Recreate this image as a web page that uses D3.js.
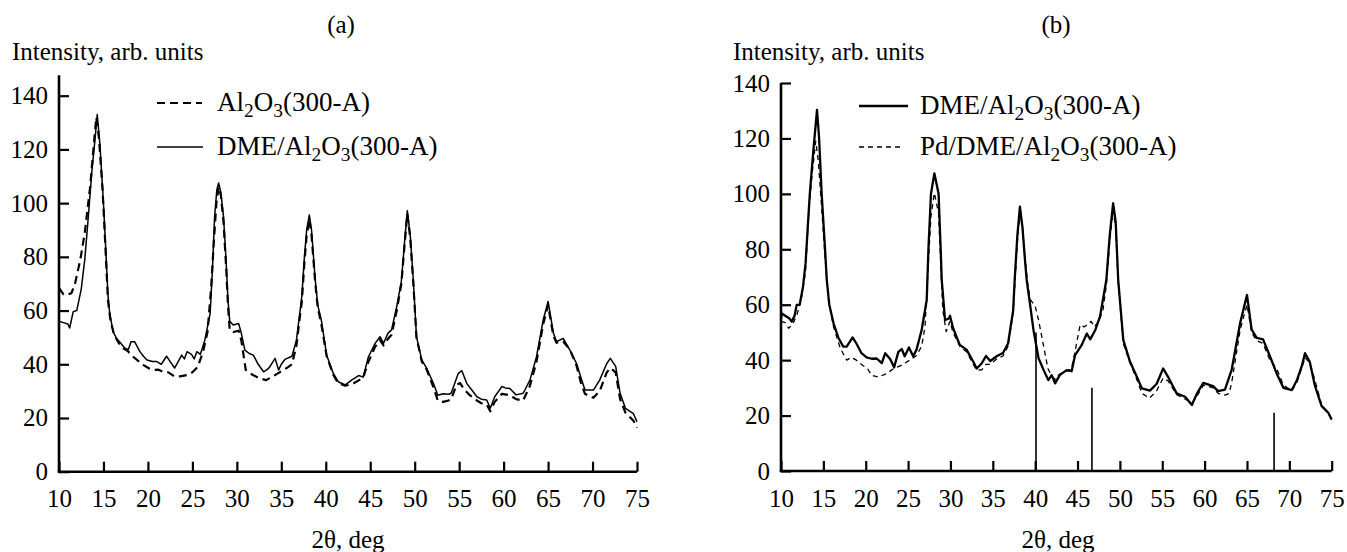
<!DOCTYPE html>
<html><head><meta charset="utf-8">
<script src="https://cdn.jsdelivr.net/npm/d3@7"></script>
<style>
body{margin:0;background:#fff}
</style>
</head><body>
<svg id="chart" width="1347" height="552"></svg>
<script>
// ---- data ----
const xTickValues = [10,15,20,25,30,35,40,45,50,55,60,65,70,75];
const yTickValues = [0,20,40,60,80,100,120,140];

// Panel (a): Al2O3(300-A) (dashed)
const aAl2O3 = [[10,68.4],[10.5,66],[11,66],[11.4,66.5],[11.8,70],[12.4,79],[12.9,89],[13.5,106],[14.0,125],[14.2,132],[14.5,124],[14.9,105],[15.2,85],[15.5,64],[15.8,56],[16.2,51],[16.7,48],[17.2,46],[17.7,45],[18.35,42.8],[19,41],[19.5,39.7],[20.1,38.5],[20.6,37.9],[21.2,38],[21.7,37.2],[22.3,37],[23,35.4],[23.6,35.5],[24.4,36],[25,37],[25.6,39],[26.2,44.7],[26.7,52],[27.1,68],[27.4,85],[27.7,100],[27.95,106],[28.2,103],[28.5,93],[28.8,76],[29.0,62],[29.2,52.8],[29.6,52],[30.2,52.5],[30.5,49],[31,37.9],[31.8,36],[32.6,34.7],[33.3,34.1],[34,35.4],[34.8,37],[35.6,38.6],[36.2,40],[36.7,47],[37.1,58],[37.3,63],[37.6,78],[37.85,88],[38.15,94],[38.4,88],[38.8,71],[39.1,61],[39.5,55],[40.1,43],[40.85,36],[41.4,33],[42.2,32],[42.9,32.5],[43.7,34],[44.2,35],[44.8,41],[45.55,46.5],[46.1,49],[46.5,47],[47.0,49.5],[47.4,51],[47.98,60],[48.5,70],[48.85,84],[49.17,96],[49.5,87],[49.85,70],[50.2,50],[50.8,41],[51.35,38],[52.1,31.5],[52.6,26.5],[53.2,26],[53.8,26.5],[54.1,27],[54.7,32.3],[55.1,33],[55.6,30.5],[56.2,28.5],[57,26.5],[57.5,25.5],[58.1,25],[58.5,22.5],[59,26],[59.8,29],[60.7,28.5],[61.4,27],[62.2,26.5],[62.96,32],[63.7,41],[64.45,55],[65,62],[65.6,50.5],[65.95,48],[66.7,48.5],[67.45,45.5],[68.2,39.5],[68.7,33],[69.15,29],[70.1,27.5],[70.8,30],[71.6,37],[72,38.6],[72.6,37],[73.1,27],[73.7,22],[74.6,19],[75,16.4]];

// Panel (a): DME/Al2O3(300-A) (solid)
const aDME = [[10,56],[10.5,55.5],[11,55],[11.2,53.5],[11.6,59.6],[12,60],[12.5,68],[12.9,79],[13.3,95],[13.7,112],[14.0,122],[14.3,133],[14.6,122],[15.0,100],[15.3,80],[15.5,66],[15.7,59],[16.1,52],[16.5,49.5],[16.9,48],[17.4,46],[17.8,45.5],[18.1,48.4],[18.5,48.4],[19.1,44.7],[19.5,43],[19.9,41.6],[20.5,41],[21,41],[21.5,40],[22.1,43],[22.5,41],[23,38.6],[23.4,41],[23.8,43.4],[24.1,42],[24.4,44.7],[24.9,43.7],[25.2,42],[25.5,44.7],[25.9,43.7],[26.4,49],[27,59],[27.25,75],[27.5,95],[27.75,105],[27.95,107.5],[28.2,104],[28.5,95],[28.8,78],[29.0,64],[29.2,56],[29.6,54.6],[30.2,55.2],[30.5,51.6],[30.9,45.3],[31.4,44],[31.85,43.4],[32.4,40],[33,37.2],[33.4,38],[33.7,39],[34.3,42.2],[34.7,37.9],[35.0,40],[35.4,41.8],[36.2,43],[36.7,49],[37.0,57],[37.3,65],[37.6,80],[37.85,90],[38.15,95.6],[38.4,90],[38.8,72],[39.1,62],[39.5,56.5],[40.1,43.4],[40.85,36.6],[41.4,33.5],[42.2,32.3],[42.9,34.1],[43.7,35.8],[44.2,35.2],[44.8,42.8],[45.55,47.8],[46.1,50.3],[46.5,47.8],[47.0,51.6],[47.4,52.8],[47.98,61.5],[48.5,71],[48.85,85],[49.17,97.2],[49.5,88],[49.85,71],[50.2,50.3],[50.8,41.6],[51.35,38.5],[52.1,32.9],[52.6,28.5],[53.2,29],[53.8,28.8],[54.1,29.2],[54.9,36.6],[55.3,37.6],[55.85,32.9],[56.4,30.5],[57,27.9],[57.5,27],[58.1,26.7],[58.5,23.6],[59.0,27.9],[59.8,31.7],[60.2,31.2],[60.7,31],[61.4,28.6],[62.2,29.2],[62.96,34.1],[63.7,42.8],[64.45,56.5],[65.0,63.4],[65.6,51.6],[65.95,48.4],[66.3,49],[66.7,49.6],[67.45,45.3],[68.2,40.3],[68.7,35],[69.15,30.4],[70.1,30.4],[70.8,34.1],[71.6,40.3],[72.0,42.2],[72.6,39.2],[73.1,29.2],[73.7,23.6],[74.6,21.6],[75,18.6]];

// Panel (b): DME/Al2O3(300-A) (solid)
const bDME = [[10,55],[10.1,56.9],[10.5,56],[11,55],[11.26,53.9],[11.6,56],[11.85,59.9],[12.2,60],[12.6,66.5],[12.9,75],[13.4,100],[13.8,115],[14.25,130.3],[14.5,120],[14.8,100],[15.2,80],[15.4,69],[15.7,60],[16.2,53.3],[16.8,47.9],[17.35,44.9],[17.75,44.9],[18.45,48.2],[18.9,46],[19.5,42.5],[20.1,41],[20.7,40.5],[21.3,40.6],[21.9,38.9],[22.3,42.5],[22.9,40.3],[23.35,37.4],[23.85,43],[24.25,44],[24.6,41.4],[25.1,44.6],[25.6,41.4],[26,43.8],[26.6,50.9],[27.2,61.7],[27.4,80],[27.7,100],[28.1,107.4],[28.6,100],[28.85,80],[28.97,69],[29.36,54.5],[29.8,55],[29.95,56],[30.3,51.7],[31.1,45.5],[31.9,43.8],[32.7,39.4],[33.1,37],[33.7,38.9],[34.2,41.5],[34.7,39.7],[35.5,41.5],[36.2,42.6],[36.8,46],[37.4,57.9],[37.6,70],[37.9,85],[38.2,95.4],[38.5,88],[38.8,76],[39.0,68.9],[39.4,60],[39.8,50.9],[40.4,40.7],[41.0,36.4],[41.55,32.8],[41.95,34.6],[42.35,31.6],[42.9,34.6],[43.7,36.4],[44.3,36],[44.7,41.7],[45.5,45.5],[46.1,49.6],[46.5,47.5],[47.1,50.9],[47.65,55.7],[48.4,68.9],[48.8,85],[49.2,96.6],[49.5,90],[49.8,69],[50.4,47.3],[51.2,39.4],[52.0,34],[52.6,29.8],[53.55,29],[54.35,31.5],[55.1,37],[55.7,33.9],[56.7,28],[57.7,26.8],[58.5,23.8],[59.1,28],[59.85,31.8],[61.0,30.6],[61.6,28.8],[62.4,29.4],[63.2,36.6],[64.2,53.5],[65.0,63.5],[65.55,51],[66.15,48],[66.9,47.5],[67.7,41.5],[68.5,35.2],[69.3,30],[70.3,29.2],[70.9,32.8],[71.5,38.2],[71.85,42.5],[72.4,39.5],[73.0,31],[73.8,23.5],[74.6,21],[75,18.6]];

// Panel (b): Pd/DME/Al2O3(300-A) (dashed)
const bPdDME = [[10,54],[10.5,53.5],[10.9,51.5],[11.4,53],[11.9,56.6],[12.4,62],[12.9,72],[13.3,95],[13.7,108],[14.1,119],[14.4,112],[14.8,95],[15.2,77],[15.6,62],[16.2,52],[17,44.3],[17.75,40],[18.3,41],[18.9,40],[19.7,38],[20.2,37],[20.7,34.5],[21.5,33.9],[22.5,35.2],[23.3,37],[24.25,38.2],[25.2,40],[26,41.7],[26.6,45],[27.0,52],[27.3,70],[27.7,92],[28.1,100.3],[28.6,93],[28.85,75],[29.1,58],[29.5,50.3],[29.95,54],[30.3,50],[31.1,45],[31.9,43],[32.7,38.5],[33.1,36.4],[33.7,36.5],[34.2,38.5],[34.7,38.5],[35.5,40.5],[36.2,41.5],[36.8,45],[37.4,57],[37.65,70],[37.95,85],[38.2,93],[38.5,88],[38.8,77],[39.1,68],[39.4,62],[40,59.5],[40.4,54.5],[41,45],[41.5,37],[42,34],[42.4,33],[42.9,35],[43.7,36],[44.3,37],[44.7,43],[45.3,52.7],[45.8,52],[46.2,53],[46.6,54],[47,52],[47.5,54],[48,58],[48.4,67],[48.8,83],[49.2,94],[49.5,88],[49.8,68],[50.4,46],[51.2,39],[52.0,33],[52.6,28],[53.5,26.3],[54.35,29],[55.1,33.5],[55.7,32.5],[56.7,27.5],[57.7,26],[58.5,24.5],[59.1,27],[59.85,31],[61.0,30],[61.6,28],[62.4,27.4],[62.9,28],[63.2,32],[64.2,51],[65.0,60],[65.55,50],[66.15,47],[66.9,46],[67.7,40],[68.5,37],[69.3,31],[70.3,29],[70.9,32],[71.5,37.5],[71.85,41],[72.4,39],[73.0,33],[73.8,24],[74.6,20.5],[75,18.5]];

// Pd reference lines (position, height)
const pdLines = [[40.1,50],[46.7,30],[68.2,21]];

// Legend labels: [text, isSubscript]
const legendAl2O3 = [["Al",0],["2",1],["O",0],["3",1],["(300-A)",0]];
const legendDME = [["DME/Al",0],["2",1],["O",0],["3",1],["(300-A)",0]];
const legendPd = [["Pd/DME/Al",0],["2",1],["O",0],["3",1],["(300-A)",0]];

// ---- drawing ----
const svg = d3.select("#chart");
const FONT = "Liberation Serif";
const FS = 25;
const LFS = 27;

function txt(g, x, y, size) {
  return g.append("text").attr("x", x).attr("y", y)
    .attr("font-family", FONT).style("font-family", FONT)
    .attr("font-size", size).attr("fill", "#000");
}

function richText(g, parts, x, y, size) {
  const t = txt(g, x, y, size);
  parts.forEach(([s, sub], i) => {
    const prev = i > 0 ? parts[i-1][1] : 0;
    const ts = t.append("tspan").text(s);
    if (sub) ts.attr("font-size", size*0.72).attr("dy", size*0.24);
    else if (prev) ts.attr("dy", -size*0.24);
  });
  return t;
}

function panel(cfg) {
  const x = d3.scaleLinear().domain([10,75]).range([cfg.xl, cfg.xr]);
  const y = d3.scaleLinear().domain([0,140]).range([cfg.yb, cfg.yt]);
  const g = svg.append("g");

  const ax = g.append("g").attr("transform", `translate(0,${cfg.yb})`)
    .call(d3.axisBottom(x).tickValues(xTickValues).tickSizeInner(-10).tickSizeOuter(0).tickPadding(18));
  const ay = g.append("g").attr("transform", `translate(${cfg.xl},0)`)
    .call(d3.axisLeft(y).tickValues(yTickValues).tickSizeInner(-10).tickSizeOuter(0).tickPadding(11));
  [ax, ay].forEach(a => {
    a.attr("font-family", FONT).style("font-family", FONT);
    a.select(".domain").remove();
    a.selectAll(".tick line").attr("stroke", "#000").attr("stroke-width", 2.2);
    a.selectAll(".tick text").attr("font-size", FS).attr("font-family", FONT)
      .style("font-family", FONT).attr("fill", "#000");
  });
  g.append("line").attr("x1", x(10) - 1.3).attr("x2", x(75)).attr("y1", y(0)).attr("y2", y(0))
    .attr("stroke", "#000").attr("stroke-width", 2.6);
  g.append("line").attr("x1", x(10)).attr("x2", x(10)).attr("y1", y(0)).attr("y2", y(cfg.yTopVal))
    .attr("stroke", "#000").attr("stroke-width", 2.6);

  txt(g, cfg.titleX, 33, FS).attr("text-anchor", "middle").text(cfg.title);
  txt(g, cfg.ylabX, 60, FS).text("Intensity, arb. units");
  txt(g, cfg.xlabX, 548, FS).attr("text-anchor", "middle").text("2θ, deg");

  const line = d3.line().x(d => x(d[0])).y(d => y(d[1]));

  if (cfg.refs) {
    g.selectAll("line.ref").data(cfg.refs).enter().append("line").attr("class","ref")
      .attr("x1", d => x(d[0])).attr("x2", d => x(d[0]))
      .attr("y1", y(0)).attr("y2", d => y(d[1]))
      .attr("stroke", "#000").attr("stroke-width", 1.6);
  }

  cfg.series.forEach(s => {
    g.append("path").datum(s.data).attr("d", line).attr("fill", "none")
      .attr("stroke", "#000").attr("stroke-width", s.w)
      .attr("stroke-dasharray", s.dash || null).attr("stroke-linejoin", "round");
  });

  cfg.series.forEach((s, i) => {
    const ly = cfg.legY[i];
    g.append("line").attr("x1", cfg.legX).attr("x2", cfg.legX + s.sample).attr("y1", ly).attr("y2", ly)
      .attr("stroke", "#000").attr("stroke-width", s.w).attr("stroke-dasharray", s.dash || null);
    richText(g, s.label, cfg.legTX, ly + 8, LFS);
  });
}

panel({
  xl: 59, xr: 637, yb: 471.7, yt: 95.7, yTopVal: 147.6,
  title: "(a)", titleX: 341, ylabX: 12, xlabX: 348,
  legX: 157, legTX: 217, legY: [103, 147],
  series: [
    {data: aAl2O3, w: 2.2, dash: "8,5", sample: 45, label: legendAl2O3},
    {data: aDME, w: 1.5, sample: 46, label: legendDME}
  ]
});

panel({
  xl: 781, xr: 1331.7, yb: 471, yt: 83, yTopVal: 140,
  title: "(b)", titleX: 1056, ylabX: 733, xlabX: 1058,
  legX: 859, legTX: 920, legY: [106, 147],
  refs: pdLines,
  series: [
    {data: bDME, w: 2.3, sample: 49, label: legendDME},
    {data: bPdDME, w: 1.3, dash: "5,4", sample: 44, label: legendPd}
  ]
});
</script>
</body></html>
